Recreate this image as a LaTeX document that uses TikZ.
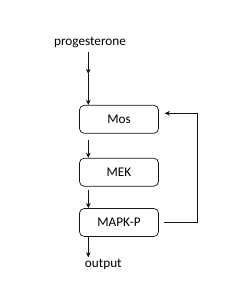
\documentclass[tikz,border=0pt]{standalone}
\usepackage{fontspec}
\setmainfont{Carlito}
\usetikzlibrary{arrows.meta, positioning}
\definecolor{inkgray}{RGB}{20,20,20}
\tikzset{
  stage/.style  = {rectangle, rounded corners=4pt, draw=inkgray, line width=0.6pt,
                   minimum width=2.37cm, minimum height=0.84cm, inner sep=0pt,
                   font=\fontsize{11.3}{13}\selectfont},
  term/.style   = {inner sep=1pt, font=\fontsize{11.3}{13}\selectfont},
  arrow/.style  = {-{Stealth[length=4.4pt, width=4pt]}, line width=0.6pt, color=inkgray},
}

\begin{document}
\begin{tikzpicture}[x=0.03cm, y=-0.03cm]
  \useasboundingbox (0,0) rectangle (233,291);

  %--- cascade boxes -------------------------------------------------------
  \node[stage] at (119,119.3) (mos)  {Mos};
  \node[stage] at (119,172.2) (mek)  {MEK};
  \node[stage] at (119,222.5) (mapk) {MAPK-P};

  %--- input / output terms ------------------------------------------------
  \node[term] at (90,42.7)   (prog) {progesterone};
  \node[term] at (103.3,264) (out)  {output};

  %--- helper points -------------------------------------------------------
  \coordinate (lane) at (88.3,0);
  \coordinate (mid)  at (88.3,74);
  \coordinate (loop) at (197,113.3);

  %--- edges ---------------------------------------------------------------
  % progesterone -> Mos (two stacked heads)
  \draw[arrow] ([yshift=-2pt]prog.south -| lane) -- (mid);
  \draw[arrow] (mid) -- (mos.north -| lane);

  % cascade
  \draw[arrow] ([yshift=-5pt]mos.south -| lane) -- (mek.north -| lane);
  \draw[arrow] ([yshift=-3pt]mek.south -| lane) -- (mapk.north -| lane);
  \draw[arrow] (mapk.south -| lane) -- (out.north -| lane);

  % feedback MAPK-P -> Mos
  \draw[arrow] ([xshift=4.8pt]mapk.east) -| (loop) -- ([xshift=5pt]mos.east |- loop);

\end{tikzpicture}
\end{document}
